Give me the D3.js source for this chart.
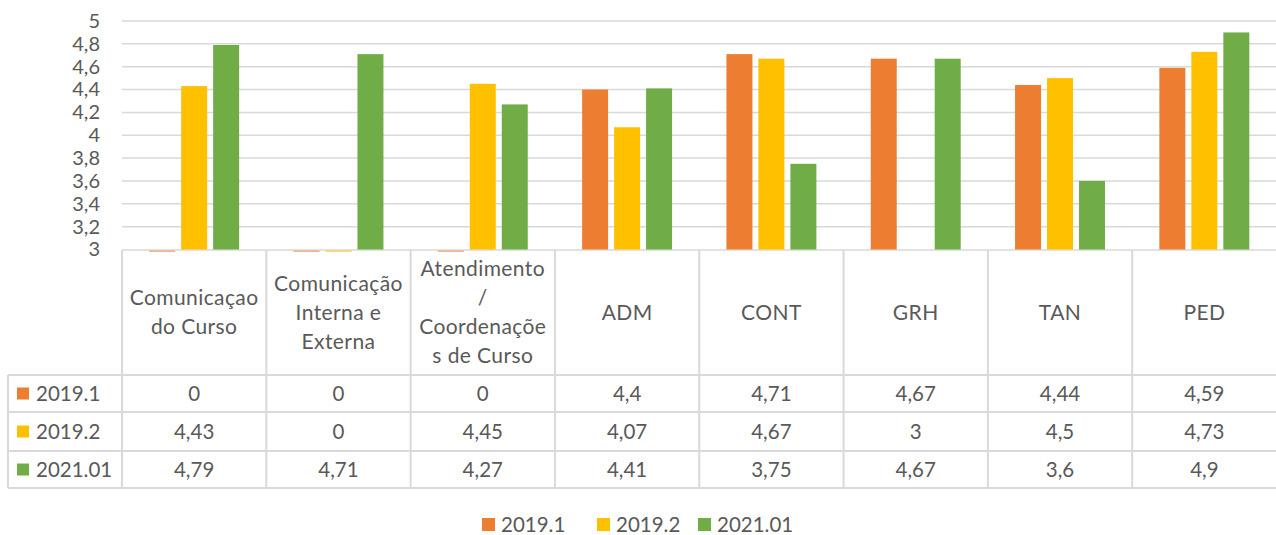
<!DOCTYPE html>
<html>
<head>
<meta charset="utf-8">
<script src="https://cdn.jsdelivr.net/npm/d3@7"></script>
<style>
  body { margin: 0; background: #fff; }
  svg { display: block; font-family: Lato, "Liberation Sans", sans-serif; }
</style>
</head>
<body>
<script>
// data
var categories = ["Comunicaçao do Curso", "Comunicação Interna e Externa", "Atendimento / Coordenações de Curso", "ADM", "CONT", "GRH", "TAN", "PED"];
var categoryLines = [
  ["Comunicaçao", "do Curso"],
  ["Comunicação", "Interna e", "Externa"],
  ["Atendimento", "/", "Coordenaçõe", "s de Curso"],
  ["ADM"], ["CONT"], ["GRH"], ["TAN"], ["PED"]
];
var seriesNames = ["2019.1", "2019.2", "2021.01"];
var seriesColors = ["#ED7D31", "#FFC000", "#70AD47"];
var s2019_1 = [0, 0, 0, 4.4, 4.71, 4.67, 4.44, 4.59];
var s2019_2 = [4.43, 0, 4.45, 4.07, 4.67, 3, 4.5, 4.73];
var s2021_01 = [4.79, 4.71, 4.27, 4.41, 3.75, 4.67, 3.6, 4.9];
var yTicks = [3, 3.2, 3.4, 3.6, 3.8, 4, 4.2, 4.4, 4.6, 4.8, 5];

var allSeries = [s2019_1, s2019_2, s2021_01];

var W = 1276, H = 535;
var textColor = "#595959", lineColor = "#d9d9d9";
var fmt = function (v) { return String(v).replace(".", ","); };

var svg = d3.select("body").append("svg")
  .attr("width", W)
  .attr("height", H);

// scales
var x0 = d3.scaleBand().domain(categories).range([122, 1276.5]);
var x1 = d3.scaleBand().domain(seriesNames).range([0, x0.bandwidth()])
  .paddingInner(0.1875).paddingOuter(0.85);
var y = d3.scaleLinear().domain([3, 5]).range([249.5, 21]);

// gridlines
svg.append("g").selectAll("line")
  .data(yTicks.slice(1))
  .enter().append("line")
  .attr("x1", 122).attr("x2", W)
  .attr("y1", function (d) { return y(d); })
  .attr("y2", function (d) { return y(d); })
  .attr("stroke", lineColor)
  .attr("stroke-width", 1.5);

// y axis labels
var yAxis = svg.append("g")
  .attr("transform", "translate(104,0)")
  .call(d3.axisLeft(y).tickValues(yTicks).tickSize(0).tickPadding(4).tickFormat(fmt));
yAxis.select(".domain").remove();
yAxis.selectAll("text")
  .attr("fill", textColor)
  .style("font-size", "20px")
  .style("font-family", "Lato, sans-serif");

// data table
var tableTop = 250, headerBottom = 375;
var rowLines = [375, 412, 451, 488];
var tbl = svg.append("g");

// axis / top line
tbl.append("line")
  .attr("x1", 122).attr("x2", W).attr("y1", tableTop).attr("y2", tableTop)
  .attr("stroke", lineColor).attr("stroke-width", 1.5);

// horizontal row lines
tbl.selectAll(".hrow")
  .data(rowLines)
  .enter().append("line")
  .attr("x1", 8).attr("x2", W)
  .attr("y1", function (d) { return d; }).attr("y2", function (d) { return d; })
  .attr("stroke", lineColor).attr("stroke-width", 2);

// vertical lines
var vx = categories.map(function (c) { return x0(c); });
tbl.selectAll(".vcol")
  .data(vx)
  .enter().append("line")
  .attr("x1", function (d) { return d; }).attr("x2", function (d) { return d; })
  .attr("y1", tableTop).attr("y2", 488)
  .attr("stroke", lineColor).attr("stroke-width", 2);
tbl.append("line")
  .attr("x1", 8).attr("x2", 8).attr("y1", 375).attr("y2", 488)
  .attr("stroke", lineColor).attr("stroke-width", 2);

// bars (values at or below the axis minimum show as a thin sliver)
var groups = svg.append("g").selectAll("g")
  .data(categories)
  .enter().append("g")
  .attr("transform", function (d) { return "translate(" + x0(d) + ",0)"; });

groups.selectAll("rect")
  .data(function (d, i) {
    return seriesNames.map(function (s, j) { return { s: s, v: allSeries[j][i], c: seriesColors[j] }; });
  })
  .enter().append("rect")
  .attr("x", function (d) { return x1(d.s); })
  .attr("width", x1.bandwidth())
  .attr("y", function (d) { return d.v > 3 ? y(d.v) : y(3) + 1; })
  .attr("height", function (d) { return d.v > 3 ? y(3) - y(d.v) : (d.v < 3 ? 1.5 : 0); })
  .attr("fill", function (d) { return d.c; })
  .attr("opacity", function (d) { return d.v < 3 ? 0.6 : 1; });

// header labels
var lineH = 29;
tbl.selectAll(".hdr")
  .data(categories)
  .enter().append("text")
  .attr("text-anchor", "middle")
  .attr("fill", textColor)
  .style("font-size", "21px")
  .style("letter-spacing", "0.4px")
  .each(function (d, i) {
    var lines = categoryLines[i];
    var cx = x0(d) + x0.bandwidth() / 2;
    var cy = (tableTop + headerBottom) / 2;
    var start = cy - (lines.length - 1) * lineH / 2;
    d3.select(this).selectAll("tspan")
      .data(lines)
      .enter().append("tspan")
      .attr("x", cx)
      .attr("y", function (l, k) { return start + k * lineH; })
      .attr("dy", "0.35em")
      .text(function (l) { return l; });
  });

// rows
seriesNames.forEach(function (s, j) {
  var cy = (rowLines[j] + rowLines[j + 1]) / 2;
  tbl.append("rect")
    .attr("x", 17).attr("y", cy - 6).attr("width", 12).attr("height", 12)
    .attr("fill", seriesColors[j]);
  tbl.append("text")
    .attr("x", 36).attr("y", cy).attr("dy", "0.35em")
    .attr("fill", textColor).style("font-size", "20.5px")
    .text(s);
  tbl.selectAll(".cell" + j)
    .data(allSeries[j])
    .enter().append("text")
    .attr("x", function (v, i) { return x0(categories[i]) + x0.bandwidth() / 2; })
    .attr("y", cy).attr("dy", "0.35em")
    .attr("text-anchor", "middle")
    .attr("fill", textColor).style("font-size", "20.5px")
    .text(fmt);
});

// legend
var legendX = [482, 597, 698];
var leg = svg.append("g").selectAll("g")
  .data(seriesNames)
  .enter().append("g")
  .attr("transform", function (d, i) { return "translate(" + legendX[i] + ",518)"; });
leg.append("rect")
  .attr("width", 13).attr("height", 13)
  .attr("fill", function (d, i) { return seriesColors[i]; });
leg.append("text")
  .attr("x", 19).attr("y", 7).attr("dy", "0.35em")
  .attr("fill", textColor).style("font-size", "20.5px")
  .text(function (d) { return d; });
</script>
</body>
</html>
